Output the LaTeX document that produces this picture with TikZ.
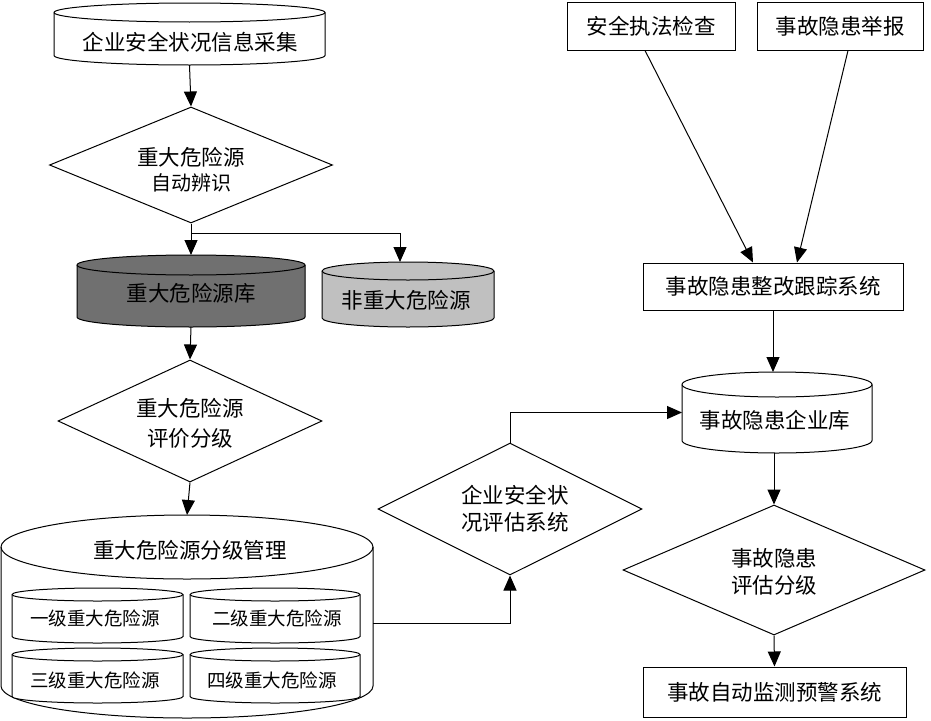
\documentclass[tikz,border=0pt]{standalone}
\usepackage{fontspec}
\setmainfont{Noto Sans CJK SC}
\usetikzlibrary{shapes.geometric,arrows.meta,calc,fit}
\definecolor{cdark}{RGB}{112,112,112}
\definecolor{clight}{RGB}{192,192,192}
\newcommand\cyl[7]{%
  \pgfmathsetmacro\crx{(#3-#2)/2}%
  \draw[fill=#7] (#2,#4+#6) -- (#2,#5-#6)
     arc[start angle=180,end angle=360,x radius=\crx pt,y radius=#6 pt]
     -- (#3,#4+#6)
     arc[start angle=0,end angle=180,x radius=\crx pt,y radius=#6 pt] -- cycle;
  \draw (#2,#4+#6) arc[start angle=180,end angle=360,x radius=\crx pt,y radius=#6 pt];
  \node[fit={(#2,#4) (#3,#5)},inner sep=0pt,outer sep=0pt] (#1) {};
}
\begin{document}
\begin{tikzpicture}[x=1pt,y=-1pt,line width=1pt,
  arr/.style={-{Triangle[length=15pt,width=13pt]}},
  txt/.style={inner sep=0pt,font=\fontsize{21.5}{27}\selectfont},
  small/.style={inner sep=0pt,font=\fontsize{18.5}{22}\selectfont},
  dia/.style={diamond,draw,inner sep=0pt,aspect=2},
  box/.style={draw,inner sep=0pt,font=\fontsize{21.5}{27}\selectfont}]
\useasboundingbox (0,0) rectangle (931,720);

% cylinders
\cyl{c0}{54}{325}{3}{65}{9.5}{white}
\cyl{c1}{77}{305}{255}{327}{10}{cdark}
\cyl{c2}{322}{494}{262}{327}{9}{clight}
\cyl{c3}{1}{373}{515}{718}{32}{white}
\cyl{i1}{12}{183}{588}{643}{6.5}{white}
\cyl{i2}{190}{360}{588}{643}{6.5}{white}
\cyl{i3}{12}{183}{648}{703}{6.5}{white}
\cyl{i4}{190}{360}{648}{703}{6.5}{white}
\cyl{c4}{682}{872}{372}{453}{12.5}{white}

\node[txt] (c0t) at (190,42) {企业安全状况信息采集};
\node[txt] (c1t) at (191,293) {重大危险源库};
\node[txt] (c2t) at (406,300) {非重大危险源};
\node[txt] (c3t) at (190,550) {重大危险源分级管理};
\node[small] (i1t) at (95,618) {一级重大危险源};
\node[small] (i2t) at (277,618) {二级重大危险源};
\node[small] (i3t) at (95,680) {三级重大危险源};
\node[small] (i4t) at (272,680) {四级重大危险源};
\node[txt] (c4t) at (775,420) {事故隐患企业库};

% diamonds
\node[dia,minimum width=283pt,minimum height=116pt] (d1) at (191,165) {};
\node[txt] (d1a) at (191,157) {重大危险源};
\node[txt,font=\fontsize{20}{22}\selectfont] (d1b) at (191,183) {自动辨识};
\node[dia,minimum width=264pt,minimum height=122pt] (d2) at (190,421) {};
\node[txt] (d2a) at (190,408) {重大危险源};
\node[txt] (d2b) at (190,438) {评价分级};
\node[dia,minimum width=264pt,minimum height=132pt] (d3) at (510,509) {};
\node[txt] (d3a) at (515,495) {企业安全状};
\node[txt] (d3b) at (515,522) {况评估系统};
\node[dia,minimum width=302pt,minimum height=130pt] (d4) at (774,570) {};
\node[txt] (d4a) at (774,558) {事故隐患};
\node[txt] (d4b) at (774,585) {评估分级};

% boxes
\node[box,minimum width=168pt,minimum height=48pt] (b1) at (651,26) {安全执法检查};
\node[box,minimum width=166pt,minimum height=48pt] (b2) at (840,26) {事故隐患举报};
\node[box,minimum width=260pt,minimum height=47pt] (b3) at (773,286.5) {事故隐患整改跟踪系统};
\node[box,minimum width=263pt,minimum height=50pt] (b4) at (774.5,692) {事故自动监测预警系统};

% connectors
\draw[arr] (c0.south) -- (d1.north);
\draw[arr] (d1.south) -- (c1.north);
\coordinate (br) at (191,233);
\draw[arr] (br) -| ($(c2.north)+(-8,0)$);
\draw[arr] (c1.south) -- (d2.north);
\draw[arr] (d2.south) -- (c3.north);
\draw[arr] ($(c3.east)+(0,7)$) -| (d3.south);
\draw[arr] (d3.north) |- (c4.west);
\draw[arr] ($(b1.south)+(-6,0)$) -- ($(b3.north)+(-20,0)$);
\draw[arr] ($(b2.south)+(8,0)$) -- ($(b3.north)+(24,0)$);
\draw[arr] (b3.south) -- (b3.south |- c4.north);
\draw[arr] (d4.north |- c4.south) -- (d4.north);
\draw[arr] (d4.south) -- (b4.north);
\end{tikzpicture}
\end{document}
